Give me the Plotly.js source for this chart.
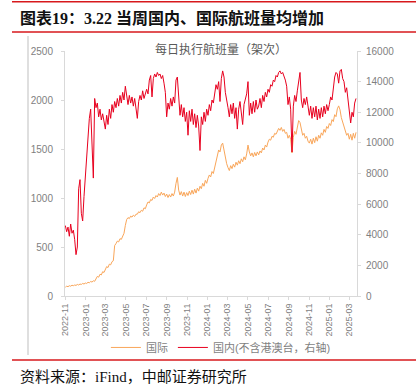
<!DOCTYPE html>
<html><head><meta charset="utf-8">
<script src="https://cdn.plot.ly/plotly-3.0.1.min.js"></script>
<style>html,body{margin:0;padding:0;background:#fff}#chart{width:416px;height:390px}</style>
</head><body><div id="chart"></div>
<script>
// Sampling: one value every 4 days starting 2022-11-01 (last = 2025-03-22)
const startDate = '2022-11-01';
const stepDays = 4;

// 国际 (left axis)
const intl = [
  90,100,95,105,100,110,105,112,
  108,118,112,122,118,128,122,132,
  128,140,135,148,142,155,150,
  175,200,192,222,215,248,240,
  275,300,290,325,318,350,360,515,
  535,560,552,585,578,615,640,720,
  780,800,790,815,805,825,812,835,
  835,860,850,875,865,900,890,
  930,960,950,985,975,1010,995,1025,
  1010,1045,1025,1060,1030,1050,1015,1040,
  1005,1035,1010,1045,1020,1060,1150,
  1210,1080,1030,1065,1020,1060,1015,1055,
  1025,1070,1035,1080,1040,1090,1050,
  1100,1070,1120,1095,1150,1120,1180,1150,
  1200,1235,1215,1270,1250,1310,1360,1420,
  1490,1470,1540,1560,1480,1400,1350,
  1310,1280,1330,1300,1345,1315,1365,1335,
  1380,1350,1400,1370,1420,1390,1450,
  1540,1470,1430,1460,1420,1465,1430,1470,
  1440,1480,1460,1510,1490,1540,1520,
  1570,1600,1590,1630,1620,1660,1650,1690,
  1710,1690,1720,1680,1700,1660,1670,1610,
  1640,1600,1460,1620,1680,1650,1740,
  1790,1770,1680,1640,1660,1610,1630,1580,
  1560,1600,1550,1610,1565,1625,1580,1640,
  1610,1665,1640,1700,1670,1730,1710,
  1760,1740,1800,1780,1850,1830,1910,1940,
  1900,1820,1780,1720,1690,1640,1660,
  1600,1650,1590,1660,1610,1670
];

// 国内(不含港澳台) (right axis)
const domestic = [
  4600,4200,4500,3900,4700,4100,4300,3700,
  2700,3200,7000,7600,5400,4900,6500,7900,
  8800,10200,11600,12200,9800,7700,12900,
  12300,12600,11700,12200,11500,11900,11300,
  10900,11800,11200,12200,11600,12500,12000,12700,
  12300,12900,12400,13100,12600,13300,12800,13700,
  13000,12500,13100,12600,13000,12400,12900,12200,
  11600,12700,13100,12800,13400,12900,13300,
  13500,13200,14100,14400,13000,14200,14500,14300,
  14600,14400,14500,14200,14400,13900,13300,11700,
  12600,12200,12900,12400,13000,12600,14100,
  14300,12600,11800,12500,11700,12300,11400,12000,
  10500,12100,11400,12200,11200,11900,11000,
  11800,11100,9500,11700,11200,12000,11400,12200,
  11800,12500,12100,12800,12600,13200,13800,13500,
  14000,12700,14200,14700,14300,13300,12900,
  12300,11700,12500,11900,12600,11600,12300,10900,
  12200,12700,11900,11200,12500,12900,13200,
  14000,11800,12600,11900,12700,12000,12800,12200,
  12400,12900,12300,13100,12700,13300,13000,
  13500,13300,13800,13700,14100,14000,14400,14300,
  14600,14700,14500,14600,14400,14100,13700,12500,
  13000,12200,9400,12400,13100,12700,13400,
  14200,14600,12800,12300,12900,12500,13000,12300,
  11800,12400,11600,12300,11700,12400,11500,12200,
  11600,12300,11700,12400,11900,12500,12100,
  12500,13000,12800,13600,14300,14600,14500,13900,
  14700,14800,14200,14000,13300,13600,12700,
  12200,11300,12000,11700,12600,12900
];

const seriesNames = ['国际', '国内(不含港澳台，右轴)'];
const chartTitle = '每日执行航班量（架次）';
const headerTitle = '图表19：3.22 当周国内、国际航班量均增加';
const sourceText = '资料来源：iFind，中邮证券研究所';

const t0 = Date.parse(startDate + 'T00:00:00Z');
const dates = intl.map((_, i) => new Date(t0 + i * stepDays * 86400000).toISOString().slice(0, 10));

const axisGray = '#d9d9d9';
const textGray = '#7f7f7f';
const sansFont = 'Liberation Sans, Arial, Noto Sans CJK SC, sans-serif';
const serifFont = 'Liberation Serif, Times New Roman, Noto Sans CJK SC, serif';

const traces = [
  {x: dates, y: intl, name: seriesNames[0], type: 'scatter', mode: 'lines',
   line: {color: '#F9A65A', width: 1}, yaxis: 'y'},
  {x: dates, y: domestic, name: seriesNames[1], type: 'scatter', mode: 'lines',
   line: {color: '#E8001E', width: 1}, yaxis: 'y2'}
];

const layout = {
  width: 416, height: 390,
  margin: {l: 65, r: 59, t: 51, b: 94, pad: 0},
  paper_bgcolor: '#fff', plot_bgcolor: '#fff',
  font: {family: sansFont, size: 10, color: textGray},
  showlegend: true,
  title: {text: chartTitle, x: 221/416, xref: 'container', xanchor: 'center',
          y: 1 - 50/390, yref: 'container', yanchor: 'middle',
          font: {size: 12, color: '#595959', family: sansFont}},
  xaxis: {type: 'date', range: ['2022-10-31', '2025-03-25'],
          tick0: '2022-11-01', dtick: 'M2', tickformat: '%Y-%m', tickangle: -90,
          showgrid: false, zeroline: false, showline: true, linecolor: axisGray, linewidth: 1,
          ticks: 'outside', ticklen: 3, tickcolor: axisGray,
          tickfont: {size: 9, color: textGray}},
  yaxis: {range: [0, 2500], dtick: 500, showgrid: false, zeroline: false, tickformat: 'd',
          showline: true, linecolor: axisGray, ticks: 'outside', ticklen: 3, tickcolor: axisGray,
          tickfont: {size: 10, color: textGray}, ticklabelstandoff: 6},
  yaxis2: {range: [0, 16000], dtick: 2000, overlaying: 'y', side: 'right', showgrid: false,
           tickformat: 'd', exponentformat: 'none',
           zeroline: false, showline: true, linecolor: axisGray, ticks: 'outside', ticklen: 3,
           tickcolor: axisGray, tickfont: {size: 10, color: textGray}, ticklabelstandoff: 3},
  legend: {orientation: 'h', x: 0.14, xanchor: 'left', y: -0.21, yanchor: 'middle',
           font: {size: 11, color: textGray}, bgcolor: 'rgba(0,0,0,0)', itemwidth: 30},
  annotations: [
    {text: '<b>' + headerTitle + '</b>', xref: 'paper', yref: 'paper', x: -0.161, y: 1.1327,
     xanchor: 'left', yanchor: 'middle', showarrow: false,
     font: {size: 16, color: '#111', family: serifFont}},
    {text: sourceText, xref: 'paper', yref: 'paper', x: -0.161, y: -0.3306,
     xanchor: 'left', yanchor: 'middle', showarrow: false,
     font: {size: 15, color: '#111', family: serifFont}}
  ],
  shapes: [
    {type: 'line', xref: 'paper', yref: 'paper', x0: -0.1815, x1: 1.21, y0: 1.2012, y1: 1.2012,
     line: {color: '#D7191C', width: 1.5}},
    {type: 'line', xref: 'paper', yref: 'paper', x0: -0.1815, x1: 1.21, y0: 1.0776, y1: 1.0776,
     line: {color: '#D7191C', width: 1.5}},
    {type: 'line', xref: 'paper', yref: 'paper', x0: -0.1815, x1: 1.21, y0: -0.2612, y1: -0.2612,
     line: {color: '#D7191C', width: 1.5}},
    {type: 'line', xref: 'paper', yref: 'paper', x0: -0.1267, x1: -0.1267, y0: 1.0612, y1: -0.2408,
     line: {color: '#bfbfbf', width: 1}}
  ]
};

Plotly.newPlot('chart', traces, layout, {displayModeBar: false, staticPlot: true});
</script>
</body></html>
